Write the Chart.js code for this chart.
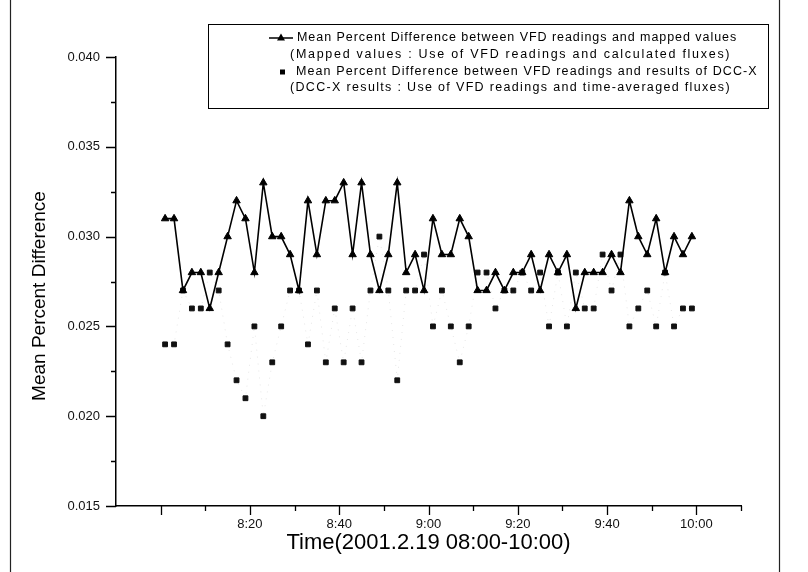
<!DOCTYPE html>
<html>
<head>
<meta charset="utf-8">
<script src="https://cdn.jsdelivr.net/npm/chart.js@4"></script>
<style>
  html, body { margin: 0; padding: 0; background: #fff }
  #wrap { width: 808px; height: 572px; position: relative }
</style>
</head>
<body>
<div id="wrap"><canvas id="chart" width="808" height="572"></canvas></div>
<script>
// sample times (every 2 minutes, 2001.2.19)
const times = [
  "8:01", "8:03", "8:05", "8:07", "8:09", "8:11", "8:13", "8:15", "8:17", "8:19",
  "8:21", "8:23", "8:25", "8:27", "8:29", "8:31", "8:33", "8:35", "8:37", "8:39",
  "8:41", "8:43", "8:45", "8:47", "8:49", "8:51", "8:53", "8:55", "8:57", "8:59",
  "9:01", "9:03", "9:05", "9:07", "9:09", "9:11", "9:13", "9:15", "9:17", "9:19",
  "9:21", "9:23", "9:25", "9:27", "9:29", "9:31", "9:33", "9:35", "9:37", "9:39",
  "9:41", "9:43", "9:45", "9:47", "9:49", "9:51", "9:53", "9:55", "9:57", "9:59"
]

// VFD readings vs mapped values
const mappedDiff = [
  0.031, 0.031, 0.027, 0.028, 0.028, 0.026, 0.028, 0.030, 0.032, 0.031,
  0.028, 0.033, 0.030, 0.030, 0.029, 0.027, 0.032, 0.029, 0.032, 0.032,
  0.033, 0.029, 0.033, 0.029, 0.027, 0.029, 0.033, 0.028, 0.029, 0.027,
  0.031, 0.029, 0.029, 0.031, 0.030, 0.027, 0.027, 0.028, 0.027, 0.028,
  0.028, 0.029, 0.027, 0.029, 0.028, 0.029, 0.026, 0.028, 0.028, 0.028,
  0.029, 0.028, 0.032, 0.030, 0.029, 0.031, 0.028, 0.030, 0.029, 0.030
]

// VFD readings vs DCC-X results
const dccxDiff = [
  0.024, 0.024, 0.027, 0.026, 0.026, 0.028, 0.027, 0.024, 0.022, 0.021,
  0.025, 0.020, 0.023, 0.025, 0.027, 0.027, 0.024, 0.027, 0.023, 0.026,
  0.023, 0.026, 0.023, 0.027, 0.030, 0.027, 0.022, 0.027, 0.027, 0.029,
  0.025, 0.027, 0.025, 0.023, 0.025, 0.028, 0.028, 0.026, 0.027, 0.027,
  0.028, 0.027, 0.028, 0.025, 0.028, 0.025, 0.028, 0.026, 0.026, 0.029,
  0.027, 0.029, 0.025, 0.026, 0.027, 0.025, 0.028, 0.025, 0.026, 0.026
]

const xTickLabels = ["8:20", "8:40", "9:00", "9:20", "9:40", "10:00"]
const yTickLabels = ["0.015", "0.020", "0.025", "0.030", "0.035", "0.040"]
const legendLines = [
  "Mean Percent Difference between VFD readings and mapped values",
  "(Mapped values : Use of VFD readings and calculated fluxes)",
  "Mean Percent Difference between VFD readings and results of DCC-X",
  "(DCC-X results : Use of VFD readings and time-averaged fluxes)"
]
const xTitle = "Time(2001.2.19 08:00-10:00)"
const yTitle = "Mean Percent Difference"

const fontFamily = "'Liberation Sans', Arial, sans-serif"
Chart.defaults.font.family = fontFamily
Chart.defaults.color = "#111"

const toMinutes = t => {
  const [h, m] = t.split(":").map(Number)
  return (h - 8) * 60 + m
}
const labelledMinutes = xTickLabels.map(toMinutes)
const isMajorY = v => Math.round(v * 10000) % 50 === 0

// legend layout (scanned figure uses wide letter spacing)
const legendRows = [38, 55, 72, 88]
const legendTextX = [297, 290, 296, 290]
const legendTextRight = [737, 731, 758, 731]

// white paper, frame lines, tick marks, y title and the boxed legend
const paperPlugin = {
  id: "paper",
  beforeDraw(chart) {
    const ctx = chart.ctx
    ctx.save()
    ctx.fillStyle = "#fff"
    ctx.fillRect(0, 0, chart.width, chart.height)
    ctx.strokeStyle = "#222"
    ctx.lineWidth = 1.2
    ctx.beginPath()
    ctx.moveTo(10.5, 0); ctx.lineTo(10.5, 572)
    ctx.moveTo(779.5, 0); ctx.lineTo(779.5, 572)
    ctx.stroke()
    ctx.restore()
  },
  afterDraw(chart) {
    const ctx = chart.ctx
    const area = chart.chartArea
    const xs = chart.scales.x, ys = chart.scales.y
    ctx.save()
    ctx.strokeStyle = "#000"
    ctx.lineWidth = 1.3
    ctx.beginPath()
    xs.ticks.forEach(t => {
      if (t.value <= xs.min) return
      const px = Math.round(xs.getPixelForValue(t.value)) + 0.5
      const len = t.value % 20 === 0 ? 9 : 5
      ctx.moveTo(px, area.bottom); ctx.lineTo(px, area.bottom + len)
    })
    ys.ticks.forEach(t => {
      const py = Math.round(ys.getPixelForValue(t.value)) + 0.5
      const len = isMajorY(t.value) ? 10 : 5
      ctx.moveTo(area.left - len, py); ctx.lineTo(area.left, py)
    })
    ctx.stroke()

    // y axis title
    ctx.save()
    ctx.translate(40, 296)
    ctx.rotate(-Math.PI / 2)
    ctx.font = "19px " + fontFamily
    ctx.fillStyle = "#000"
    ctx.textAlign = "center"
    ctx.textBaseline = "middle"
    ctx.fillText(yTitle, 0, 0)
    ctx.restore()

    // legend box
    ctx.lineWidth = 1
    ctx.strokeRect(208.5, 24.5, 560, 84)
    ctx.lineWidth = 1.5
    ctx.beginPath()
    ctx.moveTo(269, legendRows[0]); ctx.lineTo(293, legendRows[0])
    ctx.stroke()
    ctx.fillStyle = "#000"
    ctx.beginPath()
    ctx.moveTo(281, legendRows[0] - 4.5); ctx.lineTo(285, legendRows[0] + 2.5); ctx.lineTo(277, legendRows[0] + 2.5)
    ctx.closePath(); ctx.fill()
    ctx.fillRect(280, legendRows[2] - 2.5, 5, 5)
    ctx.font = "12.5px " + fontFamily
    ctx.textAlign = "left"
    ctx.textBaseline = "middle"
    legendLines.forEach((line, i) => {
      ctx.letterSpacing = "0px"
      const natural = ctx.measureText(line).width
      const spacing = (legendTextRight[i] - legendTextX[i] - natural) / line.length
      ctx.letterSpacing = Math.max(0, spacing).toFixed(2) + "px"
      ctx.fillText(line, legendTextX[i], legendRows[i])
    })
    ctx.restore()
  }
}

new Chart(document.getElementById("chart"), {
  type: "line",
  data: {
    datasets: [
      {
        label: legendLines[0],
        data: times.map((t, i) => ({ x: toMinutes(t), y: mappedDiff[i] })),
        borderColor: "#000",
        borderWidth: 1.6,
        pointStyle: "triangle",
        pointRadius: 4.3,
        pointBackgroundColor: "#000",
        pointBorderColor: "#000",
        pointBorderWidth: 1,
        tension: 0
      },
      {
        label: legendLines[2],
        data: times.map((t, i) => ({ x: toMinutes(t), y: dccxDiff[i] })),
        borderColor: "rgba(0,0,0,0.10)",
        borderWidth: 1,
        borderDash: [1, 6],
        pointStyle: "rect",
        pointRadius: 3.4,
        pointBackgroundColor: "#111",
        pointBorderColor: "#111",
        pointBorderWidth: 1,
        tension: 0
      }
    ]
  },
  options: {
    responsive: false,
    animation: false,
    devicePixelRatio: 1,
    layout: { padding: { top: 57, right: 67, left: 0, bottom: 0 } },
    plugins: { legend: { display: false }, tooltip: { enabled: false } },
    scales: {
      x: {
        type: "linear",
        min: -10,
        max: 130,
        afterFit: scale => { scale.height = 66 },
        ticks: {
          stepSize: 10,
          autoSkip: false,
          maxRotation: 0,
          padding: 11,
          color: "#111",
          font: { size: 13 },
          callback: v => {
            const i = labelledMinutes.indexOf(v)
            return i < 0 ? "" : xTickLabels[i]
          }
        },
        grid: { drawOnChartArea: false, drawTicks: false },
        border: { display: true, color: "#000", width: 1.5 },
        title: { display: true, text: xTitle, color: "#000", font: { size: 22 }, padding: { top: 0, bottom: 16 } }
      },
      y: {
        min: 0.015,
        max: 0.040,
        afterFit: scale => { scale.width = 116 },
        ticks: {
          stepSize: 0.0025,
          autoSkip: false,
          padding: 16,
          color: "#111",
          font: { size: 13 },
          callback: v => isMajorY(v) ? yTickLabels[Math.round((v - 0.015) / 0.005)] : ""
        },
        grid: { drawOnChartArea: false, drawTicks: false },
        border: { display: true, color: "#000", width: 1.5 }
      }
    }
  },
  plugins: [paperPlugin]
})
</script>
</body>
</html>
